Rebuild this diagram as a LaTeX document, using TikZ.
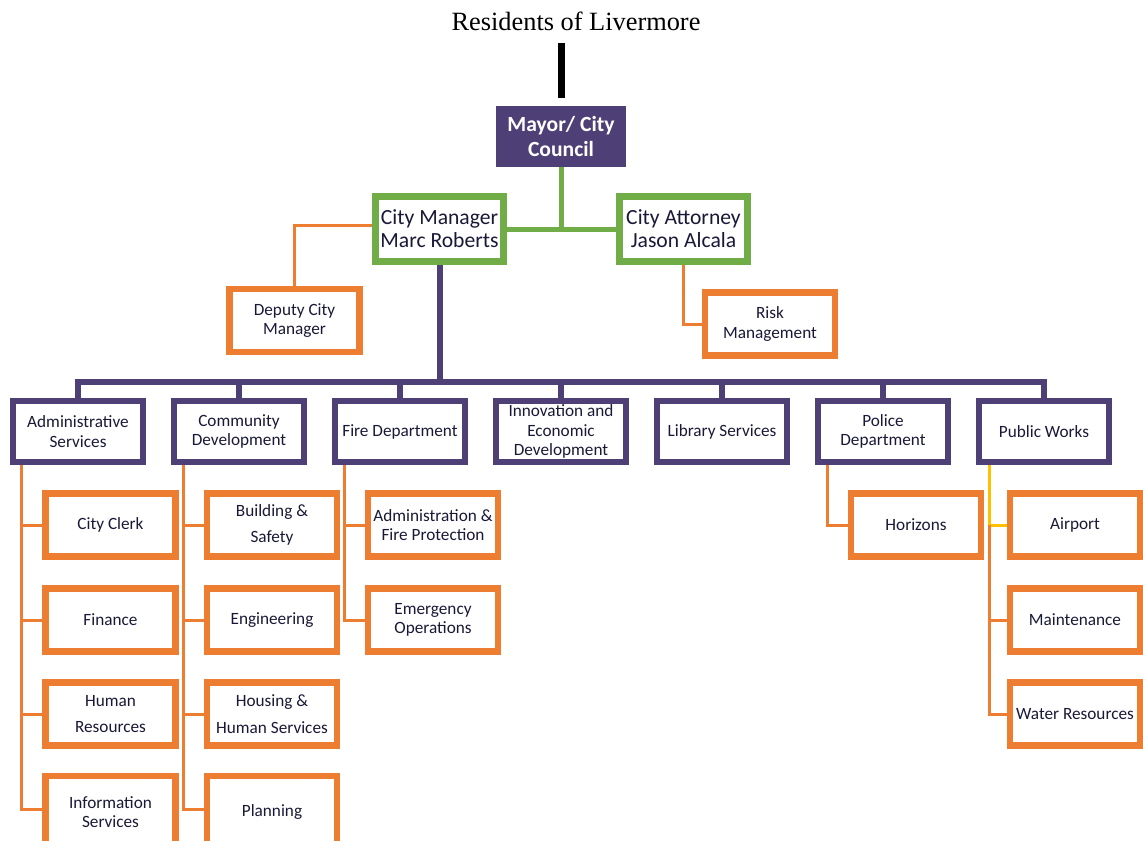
\documentclass[tikz,border=0pt]{standalone}
\usepackage{fontspec}
\setmainfont{Carlito}
\newfontfamily\titlefont{Liberation Serif}
\usetikzlibrary{backgrounds}
\definecolor{plum}{RGB}{78,64,118}
\definecolor{leaf}{RGB}{112,173,71}
\definecolor{tang}{RGB}{237,125,49}
\definecolor{gold}{RGB}{255,192,0}
\definecolor{ink}{RGB}{25,25,55}
\begin{document}
\begin{tikzpicture}[x=0.02cm,y=-0.02cm,
  every node/.style={font=\fontsize{9.8}{11}\selectfont,text=ink,align=center,inner sep=0pt},
  dept/.style={draw=plum,line width=0.12cm,fill=white,minimum width=2.6cm,minimum height=1.22cm},
  unit/.style={draw=tang,line width=0.13cm,fill=white,minimum width=2.6cm,minimum height=1.26cm},
  lowunit/.style={unit,minimum height=1.44cm},
  head/.style={draw=leaf,line width=0.14cm,fill=white,minimum width=2.56cm,minimum height=1.3cm,font=\fontsize{12.3}{13}\selectfont},
  oline/.style={draw=tang,line width=0.06cm},
  yline/.style={draw=gold,line width=0.06cm},
  pline/.style={draw=plum,line width=0.12cm},
  gline/.style={draw=leaf,line width=0.1cm}]
\clip (0,0) rectangle (1143,840);
\node[font=\titlefont\fontsize{15}{17}\selectfont,text=black] (res) at (576,21.5) {Residents of Livermore};
\node[fill=plum,minimum width=2.6cm,minimum height=1.22cm,text=white,font=\bfseries\fontsize{12.3}{14}\selectfont] (mayor) at (561,136.5) {Mayor/ City\\Council};
\node[head] (cm) at (439.5,229) {City Manager\\Marc Roberts};
\node[head] (ca) at (683.5,229) {City Attorney\\Jason Alcala};
\node[unit] (deputy) at (294.5,320.5) {Deputy City\\Manager};
\node[unit] (risk) at (770,324) {Risk\\Management};
\foreach \n/\x/\t in {admin/78/Administrative\\Services, comm/239/Community\\Development, fire/400/Fire Department,
  innov/561/Innovation and\\Economic\\Development, lib/722/Library Services, police/883/Police\\Department, works/1044/Public Works}
  \node[dept] (\n) at (\x,431.5) {\t};
\foreach \n/\y/\t in {clerk/525/City Clerk, fin/620/Finance, hr/714/Human\\[4pt]Resources}
  \node[unit] (\n) at (110.5,\y) {\t};
\node[lowunit] (info) at (110.5,812) {Information\\Services};
\foreach \n/\y/\t in {build/525/Building \&\\[4pt]Safety, eng/620/Engineering, housing/714/Housing \&\\[4pt]Human Services}
  \node[unit] (\n) at (272,\y) {\t};
\node[lowunit] (plan) at (272,812) {Planning};
\node[unit] (firepro) at (433,525) {Administration \&\\Fire Protection};
\node[unit] (emerg) at (433,620) {Emergency\\Operations};
\node[unit] (horizons) at (916,525) {Horizons};
\foreach \n/\y/\t in {airport/525/Airport, maint/620/Maintenance, water/714/Water Resources}
  \node[unit] (\n) at (1075,\y) {\t};
\coordinate (bar) at (0,382);
\begin{scope}[on background layer]
\fill[white] (0,0) rectangle (1143,840);
\draw[line width=0.14cm] ([yshift=0.16cm]mayor.north) -- ([yshift=-0.24cm]mayor.north |- res.south);
\draw[gline] (mayor.south) -- (mayor.south |- cm.east);
\draw[gline] (cm.east) -- (ca.west);
\draw[oline] ([yshift=0.08cm]cm.west) -| (deputy.north);
\draw[oline] (ca.south) |- (risk.west);
\draw[pline] (cm.south) -- (cm.south |- bar);
\draw[pline] (admin.north) -- (admin.north |- bar) -- (works.north |- bar) -- (works.north);
\foreach \n in {comm,fire,innov,lib,police}
  \draw[pline] (\n.north) -- (\n.north |- bar);
\foreach \n in {clerk,fin,hr}
  \draw[oline] ([xshift=0.22cm]admin.south west) |- (\n.west);
\draw[oline] ([xshift=0.22cm]admin.south west) |- ([yshift=0.06cm]info.west);
\foreach \n in {build,eng,housing}
  \draw[oline] ([xshift=0.24cm]comm.south west) |- (\n.west);
\draw[oline] ([xshift=0.24cm]comm.south west) |- ([yshift=0.06cm]plan.west);
\foreach \n in {firepro,emerg}
  \draw[oline] ([xshift=0.24cm]fire.south west) |- (\n.west);
\draw[oline] ([xshift=0.24cm]police.south west) |- (horizons.west);
\coordinate (pw) at ([xshift=0.26cm]works.south west);
\draw[yline] (pw) |- (airport.west);
\foreach \n in {maint,water}
  \draw[oline] (pw |- airport.west) |- (\n.west);
\end{scope}
\end{tikzpicture}
\end{document}
